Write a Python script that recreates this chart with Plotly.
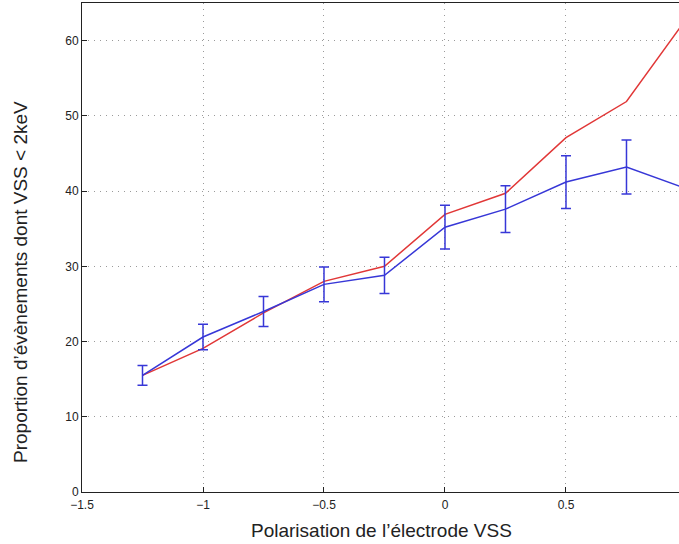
import plotly.graph_objects as go

x_vals = [-1.25, -1.0, -0.75, -0.5, -0.25, 0.0, 0.25, 0.5, 0.75, 1.0]
blue_vals = [15.5, 20.6, 24.0, 27.6, 28.8, 35.2, 37.6, 41.2, 43.2, 40.3]
blue_err = [1.3, 1.7, 2.0, 2.3, 2.4, 2.9, 3.1, 3.5, 3.6, 3.6]
red_vals = [15.5, 19.1, 23.8, 28.0, 30.0, 36.9, 39.7, 47.1, 51.9, 63.0]

x_ticks = [-1.5, -1, -0.5, 0, 0.5]
x_tick_text = ["\u22121.5", "\u22121", "\u22120.5", "0", "0.5"]
y_ticks = [0, 10, 20, 30, 40, 50, 60]

x_title = "Polarisation de l\u2019\u00e9lectrode VSS"
y_title = "Proportion d\u2019\u00e9v\u00e8nements dont VSS < 2keV"

fig = go.Figure()
fig.add_trace(go.Scatter(x=x_vals, y=red_vals, mode="lines",
                         line=dict(color="rgb(225,55,55)", width=1.5),
                         showlegend=False, hoverinfo="skip"))
fig.add_trace(go.Scatter(x=x_vals, y=blue_vals, mode="lines",
                         line=dict(color="rgb(55,55,215)", width=1.5),
                         error_y=dict(type="data", array=blue_err, visible=True,
                                      color="rgb(55,55,215)", thickness=1.5, width=5),
                         showlegend=False, hoverinfo="skip"))

W, H = 679, 544
L, R, T, B = 82, 0, 3, 52
fig.update_layout(
    width=W, height=H,
    margin=dict(l=L, r=R, t=T, b=B, autoexpand=False),
    paper_bgcolor="white", plot_bgcolor="white",
    font=dict(family="Liberation Sans, Arial, sans-serif", color="#222"),
    annotations=[
        dict(text=x_title, xref="paper", yref="paper",
             x=(381 - L) / (W - L - R), y=-(530 - (H - B)) / (H - T - B),
             xanchor="center", yanchor="middle", showarrow=False,
             font=dict(size=19, color="#222")),
        dict(text=y_title, xref="paper", yref="paper",
             x=-(L - 20) / (W - L - R), y=((H - B) - 282) / (H - T - B),
             xanchor="center", yanchor="middle", showarrow=False, textangle=-90,
             font=dict(size=19, color="#222")),
    ],
)
grid_dash = "1px,5px"
fig.update_xaxes(
    range=[-1.5, 0.967], tickvals=x_ticks, ticktext=x_tick_text,
    showgrid=True, gridcolor="#9a9a9a", griddash=grid_dash, gridwidth=1,
    showline=True, linecolor="#222", linewidth=1, mirror=True,
    ticks="inside", ticklen=5, tickcolor="#222", ticklabelstandoff=2,
    tickfont=dict(size=12, color="#222"), zeroline=False, automargin=False,
)
fig.update_yaxes(
    range=[0, 65], tickvals=y_ticks,
    showgrid=True, gridcolor="#9a9a9a", griddash=grid_dash, gridwidth=1,
    showline=True, linecolor="#222", linewidth=1,
    ticks="inside", ticklen=5, tickcolor="#222",
    tickfont=dict(size=12, color="#222"), zeroline=False, automargin=False,
)

fig.write_html("out.html", config={"displayModeBar": False},
               post_script="document.body.style.margin='0';document.body.style.overflow='hidden';")
